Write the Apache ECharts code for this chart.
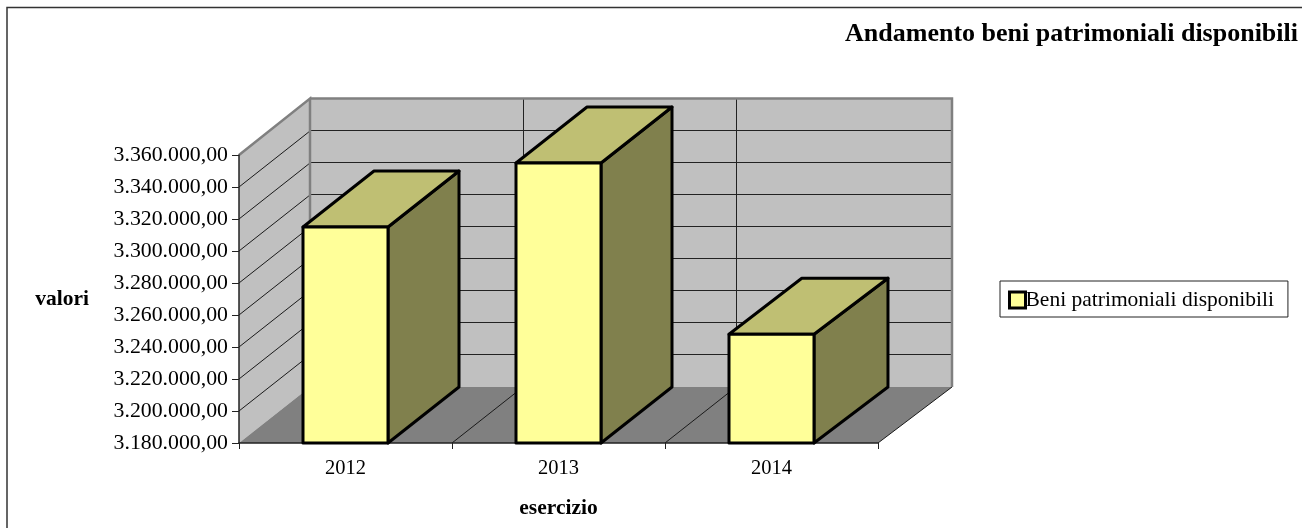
<!DOCTYPE html>
<html><head><meta charset="utf-8">
<style>html,body{margin:0;padding:0;background:#fff}#c{width:1302px;height:528px}</style>
<script src="https://cdn.jsdelivr.net/npm/echarts@6/dist/echarts.min.js"></script>
</head><body><div id="c"></div>
<script>
const categories = ['2012', '2013', '2014'];
const seriesName = 'Beni patrimoniali disponibili';
const values = [3315000, 3355000, 3248000];
const yMin = 3180000, yMax = 3360000, yStep = 20000;
const yTicks = [3180000,3200000,3220000,3240000,3260000,3280000,3300000,3320000,3340000,3360000];
const titleText = 'Andamento beni patrimoniali disponibili';
const yName = 'valori', xName = 'esercizio';

const FONT = '"Liberation Serif"';
const DY = -56, BAR_RATIO = 85 / 213;

function fmt(v) {
  return String(v).replace(/\B(?=(\d{3})+$)/g, '.') + ',00';
}
function depthX(x, L) {
  return Math.min(74, 71 + Math.max(0, x - L - 362) * 0.014);
}
function poly(points, fill, stroke, lw) {
  return { type: 'polygon', shape: { points }, style: { fill: fill, stroke: stroke || null, lineWidth: lw || 0, lineJoin: 'round' } };
}
function line(x1, y1, x2, y2, stroke, lw) {
  return { type: 'line', shape: { x1, y1, x2, y2 }, style: { stroke, lineWidth: lw } };
}
function renderFrame(params, api) {
  const g = params.coordSys, L = g.x, R = g.x + g.width, T = g.y, B = g.y + g.height;
  const BL = L + depthX(L, L), BR = R + depthX(R, L);
  const kids = [];
  kids.push(poly([[L, T], [BL, T + DY], [BL, B + DY], [L, B]], '#c0c0c0'));
  kids.push(poly([[BL, T + DY], [BR, T + DY], [BR, B + DY], [BL, B + DY]], '#c0c0c0'));
  kids.push(poly([[L, B], [BL, B + DY], [BR, B + DY], [R, B]], '#808080'));
  yTicks.forEach(function (t, i) {
    const y = api.coord([0, t])[1];
    if (i > 0 && i < yTicks.length - 1) {
      kids.push(line(L, y, BL, y + DY, '#1a1a1a', 1));
      kids.push(line(BL, y + DY - 0.5, BR, y + DY - 0.5, '#222', 1));
    }
  });
  const band = api.size([1, 0])[0];
  categories.forEach(function (c, i) {
    if (i === 0) return;
    const x = L + band * i;
    const bx = x + 71;
    kids.push(line(x, B, bx, B + DY, '#1a1a1a', 1));
    kids.push(line(bx + 0.5, B + DY, bx + 0.5, T + DY, '#222', 1));
  });
  kids.push(line(R, B, BR, B + DY, '#1a1a1a', 1));
  kids.push({ type: 'polyline', shape: { points: [[L, T], [BL, T + DY - 0.5], [BL, B + DY]] }, style: { fill: null, stroke: '#808080', lineWidth: 2.5 } });
  kids.push({ type: 'polyline', shape: { points: [[BL, T + DY - 0.5], [BR, T + DY - 0.5], [BR, B + DY]] }, style: { fill: null, stroke: '#808080', lineWidth: 2.5 } });
  return { type: 'group', children: kids };
}
function renderBar(params, api) {
  const L = params.coordSys.x;
  const idx = api.value(0), val = api.value(1);
  const top = api.coord([idx, val]), base = api.coord([idx, yMin]);
  const w = api.size([1, 0])[0] * BAR_RATIO;
  const x0 = top[0] - w / 2, x1 = top[0] + w / 2, yT = top[1], yB = base[1];
  const d0 = depthX(x0, L), d1 = depthX(x1, L);
  const s = '#000', lw = 3;
  return { type: 'group', children: [
    poly([[x1, yT], [x1 + d1, yT + DY], [x1 + d1, yB + DY], [x1, yB]], '#80804d', s, lw),
    poly([[x0, yT], [x0 + d0, yT + DY], [x1 + d1, yT + DY], [x1, yT]], '#bfbf73', s, lw),
    poly([[x0, yT], [x1, yT], [x1, yB], [x0, yB]], '#ffff99', s, lw)
  ] };
}

const chart = echarts.init(document.getElementById('c'), null, { renderer: 'canvas' });
chart.setOption({
  animation: false,
  backgroundColor: '#fff',
  title: {
    text: titleText, right: 4, top: 21, padding: 0,
    textStyle: { fontFamily: FONT, fontSize: 26, fontWeight: 'bold', color: '#000' }
  },
  legend: {
    data: [seriesName], left: 1000, top: 281, orient: 'vertical',
    padding: [8, 14, 6, 8], backgroundColor: '#fff',
    borderColor: '#222', borderWidth: 1, borderRadius: 0,
    icon: 'rect', itemWidth: 16, itemHeight: 16, itemGap: 0,
    itemStyle: { color: '#ffff99', borderColor: '#000', borderWidth: 3 },
    textStyle: { fontFamily: FONT, fontSize: 21.5, color: '#000', padding: [2, 0, 0, -5] }
  },
  grid: { left: 239, top: 155, width: 639, height: 288, containLabel: false },
  xAxis: {
    type: 'category', data: categories, z: 1,
    name: xName, nameLocation: 'middle', nameGap: 54,
    nameTextStyle: { fontFamily: FONT, fontSize: 21.5, fontWeight: 'bold', color: '#000' },
    axisLine: { lineStyle: { color: '#222', width: 1.5 } },
    axisTick: { show: true, alignWithLabel: false, length: 6, lineStyle: { color: '#222', width: 1 } },
    axisLabel: { fontFamily: FONT, fontSize: 20.5, color: '#000', margin: 15 },
    splitLine: { show: false }
  },
  yAxis: {
    type: 'value', min: yMin, max: yMax, interval: yStep, z: 1,
    name: yName, nameLocation: 'middle', nameRotate: 0, nameGap: 150,
    nameTextStyle: { fontFamily: FONT, fontSize: 21.5, fontWeight: 'bold', color: '#000', padding: [0, 0, 2, 0] },
    axisLine: { show: true, onZero: false, lineStyle: { color: '#222', width: 1.5 } },
    axisTick: { show: true, length: 7, lineStyle: { color: '#222', width: 1 } },
    axisLabel: { fontFamily: FONT, fontSize: 21.8, color: '#000', margin: 11, formatter: fmt },
    splitLine: { show: false }
  },
  series: [
    { type: 'custom', name: 'frame', z: 0, silent: true, data: [[0]], renderItem: renderFrame, encode: { x: 0 }, clip: false },
    { type: 'custom', name: seriesName, z: 2, silent: true, itemStyle: { color: '#ffff99' },
      data: values.map(function (v, i) { return [i, v]; }), renderItem: renderBar, encode: { x: 0, y: 1 }, clip: false }
  ],
  graphic: [{ type: 'polyline', silent: true, z: 10,
    shape: { points: [[7, 528], [7, 7.5], [1302, 7.5]] },
    style: { fill: null, stroke: '#333', lineWidth: 1.5 } }]
});
</script></body></html>
